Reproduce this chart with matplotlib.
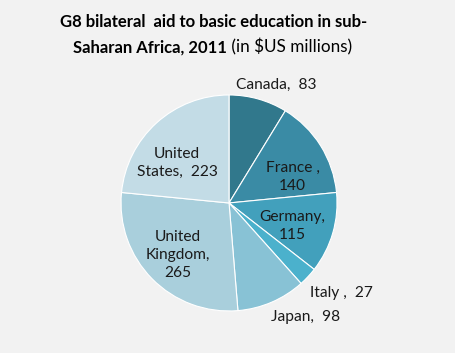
import matplotlib.pyplot as plt
import numpy as np

# --- data ---
countries = ["Canada", "France", "Germany", "Italy", "Japan", "United\nKingdom", "United\nStates"]
aid = [83, 140, 115, 27, 98, 265, 223]
colors = ["#31788C", "#3A8BA5", "#42A0BC", "#4BB1CC", "#88C2D5", "#A9CFDC", "#C3DCE6"]

# label text and where it sits (x, y in pie radius units)
label_text = ["Canada,  83", "France ,\n140", "Germany,\n115", "Italy ,  27",
              "Japan,  98", "United\nKingdom,\n265", "United\nStates,  223"]
label_xy = [(0.44, 1.09), (0.59, 0.24), (0.59, -0.21), (1.04, -0.83),
            (0.71, -1.06), (-0.47, -0.48), (-0.48, 0.37)]

plt.rcParams["font.family"] = ["Lato", "DejaVu Sans"]

fig = plt.figure(figsize=(4.56, 3.53), dpi=100, facecolor="#F2F2F2")
ax = fig.add_axes([0.2654, 0.119, 0.4737, 0.612])
ax.set_facecolor("#F2F2F2")

ax.pie(aid, colors=colors, startangle=90, counterclock=False,
       wedgeprops=dict(edgecolor="white", linewidth=0.8))
ax.set_xlim(-1, 1)
ax.set_ylim(-1, 1)
ax.set_aspect("equal")
ax.axis("off")

for txt, (x, y) in zip(label_text, label_xy):
    ax.text(x, y, txt, ha="center", va="center", fontsize=11.2,
            color="#1A1A1A", linespacing=1.35)

# --- title, two lines, mixed weight ---
fig.text(0.468, 0.937, "G8 bilateral  aid to basic education in sub-",
         ha="center", va="center", fontsize=12, fontweight="bold")
t2 = fig.text(0.160, 0.866, "Saharan Africa, 2011", ha="left", va="center",
              fontsize=12, fontweight="bold")
ax.annotate(" (in $US millions)", xy=(1, 0), xycoords=t2, ha="left", va="bottom",
            fontsize=12.3)

plt.savefig("out.png", dpi=100, facecolor=fig.get_facecolor())
